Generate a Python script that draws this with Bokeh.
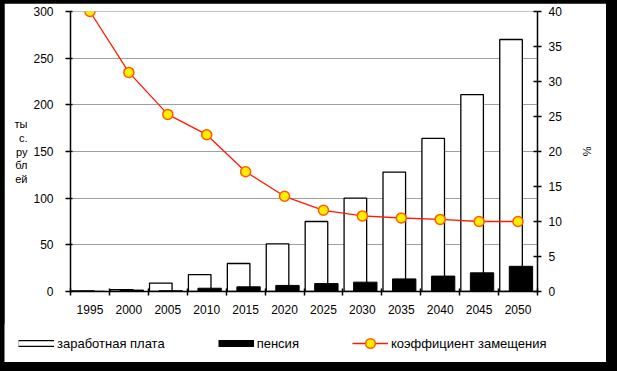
from bokeh.plotting import figure
from bokeh.models import (Range1d, LinearAxis, FixedTicker, Legend, LegendItem,
                          ColumnDataSource)
from bokeh.transform import dodge
from bokeh.layouts import column
from bokeh.embed import file_html
from bokeh.resources import INLINE

# ---- data ----
years = ["1995", "2000", "2005", "2010", "2015", "2020",
         "2025", "2030", "2035", "2040", "2045", "2050"]
wage = [0.6, 2, 9, 18, 30, 51, 75, 100, 128, 164, 211, 270]          # тыс. рублей
pension = [0.3, 1.5, 0.8, 3.5, 5, 6.5, 8.5, 10, 13.5, 16.5, 20, 27]  # тыс. рублей
ratio = [40, 31.3, 25.3, 22.4, 17.1, 13.6, 11.6, 10.8, 10.5, 10.3, 10.0, 10.0]  # %
left_ticks = [0, 50, 100, 150, 200, 250, 300]
right_ticks = [0, 5, 10, 15, 20, 25, 30, 35, 40]
series_names = ["заработная плата", "пенсия", "коэффициент замещения"]

FONT = "Liberation Sans"
RED = "#ff1a00"
MK_FILL = "#ffee00"
MK_LINE = "#ff5a00"
n = len(years)
centers = [i + 0.5 for i in range(n)]
src = ColumnDataSource(dict(x=centers, year=years, wage=wage,
                            pension=pension, ratio=ratio))

p = figure(width=602, height=322, x_range=Range1d(0, n), y_range=Range1d(0, 300),
           output_backend="svg", toolbar_location=None,
           min_border_left=66, min_border_right=69, min_border_top=8,
           min_border_bottom=34, margin=(3, 11, 0, 4))
p.extra_y_ranges = {"pct": Range1d(0, 40)}
p.outline_line_color = None
p.background_fill_color = "white"
p.border_fill_color = "white"

# bars
p.vbar(x=dodge("x", -0.18, range=p.x_range), top="wage", width=0.58,
       source=src, fill_color="white", line_color="black", line_width=1.3)
p.vbar(x=dodge("x", 0.075, range=p.x_range), top="pension", width=0.6,
       source=src, fill_color="black", line_color="black", line_width=1)
# replacement ratio line
p.line(x="x", y="ratio", source=src, y_range_name="pct",
       line_color=RED, line_width=1.3)
p.scatter(x="x", y="ratio", source=src, y_range_name="pct", size=10,
          fill_color=MK_FILL, line_color=MK_LINE, line_width=1.5)

# grid
p.xgrid.visible = False
p.ygrid.ticker = FixedTicker(ticks=left_ticks)
p.ygrid.grid_line_color = "#a0a0a0"
p.ygrid.grid_line_width = 1

# x axis
xa = p.xaxis[0]
xa.ticker = FixedTicker(ticks=centers, minor_ticks=list(range(n + 1)))
xa.major_label_overrides = {c: y for c, y in zip(centers, years)}
xa.major_tick_in = 0
xa.major_tick_out = 0
xa.minor_tick_in = 3
xa.minor_tick_out = 4
xa.minor_tick_line_color = "black"
xa.minor_tick_line_width = 1.5
xa.axis_line_width = 1.5
xa.major_label_standoff = 9

# left axis
ya = p.yaxis[0]
ya.ticker = FixedTicker(ticks=left_ticks)
ya.major_tick_in = 2
ya.major_tick_out = 5
ya.major_tick_line_width = 1.5
ya.axis_line_width = 1.5
ya.major_label_standoff = 12
ya.axis_label = "ты\nс.\nру\nбл\nей"
ya.axis_label_orientation = "horizontal"
ya.axis_label_standoff = 3

# right axis
ra = LinearAxis(y_range_name="pct", ticker=FixedTicker(ticks=right_ticks))
ra.major_tick_in = 4
ra.major_tick_out = 4
ra.major_tick_line_width = 1.5
ra.axis_line_width = 1.5
ra.major_label_standoff = 7
ra.axis_label = "%"
ra.axis_label_standoff = 16
p.add_layout(ra, "right")

for ax in (xa, ya, ra):
    ax.major_label_text_font = FONT
    ax.major_label_text_font_size = "12px"
    ax.major_label_text_color = "black"
    ax.axis_line_color = "black"
    ax.major_tick_line_color = "black"
    ax.axis_label_text_font = FONT
    ax.axis_label_text_font_size = "11px"
    ax.axis_label_text_font_style = "normal"
    ax.axis_label_text_color = "black"
    ax.axis_label_text_line_height = 1.15

# ---- legend strip under the chart ----
pl = figure(width=602, height=38, x_range=Range1d(0, 1), y_range=Range1d(0, 1),
            output_backend="svg", toolbar_location=None,
            min_border=0, margin=(-1, 11, 9, 4))
pl.frame_align = False
pl.axis.visible = False
pl.grid.visible = False
pl.outline_line_color = None
pl.background_fill_color = "white"
pl.border_fill_color = "white"

# hidden key renderers (the legend draws their styles only)
k_wage_o = pl.line(x="x", y="wage", source=src, line_color="black",
                   line_width=7, visible=False)
k_wage_i = pl.line(x="x", y="wage", source=src, line_color="white",
                   line_width=4.6, visible=False)
k_pen = pl.line(x="x", y="pension", source=src, line_color="black",
                line_width=7, visible=False)
k_line = pl.line(x="x", y="ratio", source=src, line_color=RED,
                 line_width=1.3, visible=False)
k_pts = pl.scatter(x="x", y="ratio", source=src, fill_color=MK_FILL,
                   line_color=MK_LINE, line_width=1.5, visible=False)

legend = Legend(items=[LegendItem(label=series_names[0], renderers=[k_wage_o, k_wage_i]),
                       LegendItem(label=series_names[1], renderers=[k_pen]),
                       LegendItem(label=series_names[2], renderers=[k_line, k_pts])],
                location=(14, 7), orientation="horizontal", glyph_width=36,
                glyph_height=24, label_standoff=3, padding=0, margin=0,
                spacing=53, border_line_color=None, background_fill_alpha=0,
                inactive_fill_alpha=0,
                label_text_font=FONT, label_text_font_size="13px",
                label_text_color="black")
pl.add_layout(legend)

layout = column(p, pl, styles={"background-color": "black"})

open("out.html", "w").write(file_html(layout, INLINE))
